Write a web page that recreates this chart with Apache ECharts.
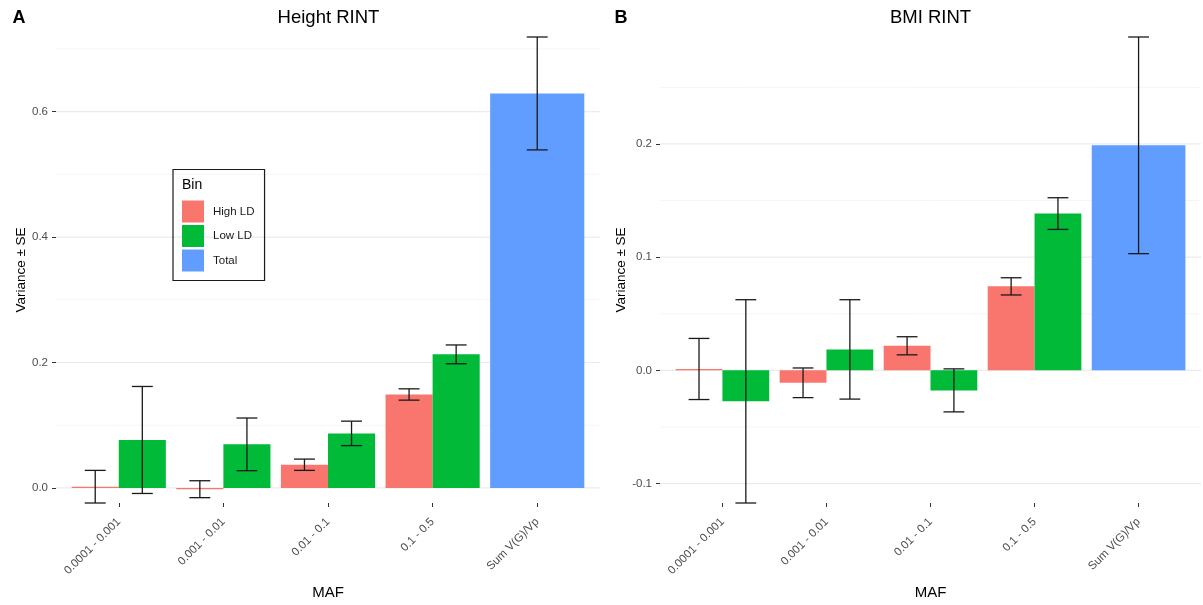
<!DOCTYPE html>
<html><head><meta charset="utf-8">
<script src="https://cdn.jsdelivr.net/npm/echarts@6/dist/echarts.min.js"></script>
<style>html,body{margin:0;padding:0;background:#fff}#c{width:1203px;height:605px}</style>
</head><body><div id="c"></div>
<script>
// ---------- data ----------
const categories = ['0.0001 - 0.001', '0.001 - 0.01', '0.01 - 0.1', '0.1 - 0.5', 'Sum V(G)/Vp'];

const heightHigh   = [0.002, -0.002, 0.037, 0.149, null];
const heightHighSE = [0.026, 0.0135, 0.009, 0.009, null];
const heightLow    = [0.0765, 0.0695, 0.087, 0.213, null];
const heightLowSE  = [0.0853, 0.042, 0.0195, 0.015, null];
const heightTotal   = [null, null, null, null, 0.629];
const heightTotalSE = [null, null, null, null, 0.090];

const bmiHigh   = [0.0012, -0.011, 0.0217, 0.0742, null];
const bmiHighSE = [0.027, 0.0131, 0.008, 0.0076, null];
const bmiLow    = [-0.0274, 0.0185, -0.0177, 0.1385, null];
const bmiLowSE  = [0.0898, 0.0439, 0.019, 0.014, null];
const bmiTotal   = [null, null, null, null, 0.1988];
const bmiTotalSE = [null, null, null, null, 0.0957];

const heightMajorTicks = [0, 0.2, 0.4, 0.6];
const heightMinorTicks = [0.1, 0.3, 0.5, 0.7];
const bmiMajorTicks = [-0.1, 0, 0.1, 0.2];
const bmiMinorTicks = [-0.05, 0.05, 0.15, 0.25];

const seriesNames = ['High LD', 'Low LD', 'Total'];
const catPositions = categories.map((c, i) => i + 1);

// ---------- styling ----------
const FONT = 'Liberation Sans, Arial, sans-serif';
const COLORS = {'High LD': '#F8766D', 'Low LD': '#00BA38', 'Total': '#619CFF'};
const DODGE = {'High LD': -0.225, 'Low LD': 0.225, 'Total': 0};
const WIDTH = {'High LD': 0.45, 'Low LD': 0.45, 'Total': 0.9};

function extent(pairs) {
  let lo = Infinity, hi = -Infinity;
  pairs.forEach(([v, s]) => v.forEach((x, i) => {
    if (x == null) return;
    lo = Math.min(lo, x - s[i]); hi = Math.max(hi, x + s[i]);
  }));
  return [lo, hi];
}

function barSeries(name, idx, vals) {
  const off = DODGE[name], w = WIDTH[name], color = COLORS[name];
  return {
    type: 'custom', name, xAxisIndex: idx, yAxisIndex: idx, z: 3, silent: true,
    itemStyle: {color},
    data: vals.map((v, i) => v == null ? null : [catPositions[i], v]).filter(Boolean),
    renderItem(params, api) {
      const x = api.value(0), y = api.value(1);
      const a = api.coord([x + off - w / 2, y]);
      const b = api.coord([x + off + w / 2, 0]);
      return {type: 'rect', shape: {x: a[0], y: Math.min(a[1], b[1]), width: b[0] - a[0],
        height: Math.max(Math.abs(b[1] - a[1]), 0.6)}, style: {fill: color}};
    }
  };
}

function errSeries(name, idx, vals, ses) {
  const off = DODGE[name];
  return {
    type: 'custom', name: name + ' SE ' + idx, xAxisIndex: idx, yAxisIndex: idx, z: 4, silent: true,
    data: vals.map((v, i) => v == null ? null : [catPositions[i], v, ses[i]]).filter(Boolean),
    renderItem(params, api) {
      const x = api.value(0) + off, v = api.value(1), s = api.value(2);
      const top = api.coord([x, v + s]), bot = api.coord([x, v - s]);
      const l = api.coord([x - 0.1, v])[0], r = api.coord([x + 0.1, v])[0];
      const st = {stroke: '#1a1a1a', lineWidth: 1.3};
      return {type: 'group', children: [
        {type: 'line', shape: {x1: top[0], y1: top[1], x2: bot[0], y2: bot[1]}, style: st},
        {type: 'line', shape: {x1: l, y1: top[1], x2: r, y2: top[1]}, style: st},
        {type: 'line', shape: {x1: l, y1: bot[1], x2: r, y2: bot[1]}, style: st}
      ]};
    }
  };
}

function gridSeries(idx, vals, color, width) {
  return {
    type: 'custom', name: 'grid' + idx + width, xAxisIndex: idx, yAxisIndex: idx, z: 1, silent: true,
    data: vals.map(v => [1, v]),
    renderItem(params, api) {
      const cs = params.coordSys;
      const y = api.coord([1, api.value(1)])[1];
      return {type: 'line', shape: {x1: cs.x, y1: y, x2: cs.x + cs.width, y2: y},
        style: {stroke: color, lineWidth: width}};
    }
  };
}

const hExt = extent([[heightHigh, heightHighSE], [heightLow, heightLowSE], [heightTotal, heightTotalSE]]);
const bExt = extent([[bmiHigh, bmiHighSE], [bmiLow, bmiLowSE], [bmiTotal, bmiTotalSE]]);

function xAxis(idx) {
  return {
    type: 'value', gridIndex: idx, min: 0.4, max: 5.6,
    axisLine: {show: false, onZero: false}, splitLine: {show: false},
    axisTick: {show: true, customValues: catPositions, length: 4, lineStyle: {color: '#333', width: 1}},
    axisLabel: {customValues: catPositions, rotate: 45, margin: 17, fontSize: 11.5, color: '#4D4D4D',
      fontFamily: FONT, formatter: v => categories[Math.round(v) - 1]},
    name: 'MAF', nameLocation: 'middle', nameGap: 82,
    nameTextStyle: {fontSize: 15, color: '#000', fontFamily: FONT}
  };
}
function yAxis(idx, ext, major, gap) {
  return {
    type: 'value', gridIndex: idx, min: ext[0], max: ext[1],
    axisLine: {show: false, onZero: false}, splitLine: {show: false},
    axisTick: {show: true, customValues: major, length: 4, lineStyle: {color: '#333', width: 1}},
    axisLabel: {customValues: major, margin: 8, fontSize: 11.5, color: '#4D4D4D', fontFamily: FONT,
      formatter: v => v.toFixed(1)},
    name: 'Variance \u00B1 SE', nameLocation: 'middle', nameGap: gap,
    nameTextStyle: {fontSize: 13.5, color: '#000', fontFamily: FONT}
  };
}

const option = {
  animation: false,
  backgroundColor: '#fff',
  textStyle: {fontFamily: FONT},
  grid: [
    {left: 56, right: 603, top: 37, bottom: 98},
    {left: 660, right: 2, top: 37, bottom: 98}
  ],
  xAxis: [xAxis(0), xAxis(1)],
  yAxis: [yAxis(0, hExt, heightMajorTicks, 28), yAxis(1, bExt, bmiMajorTicks, 32)],
  legend: {
    data: seriesNames, orient: 'vertical', left: 173, top: 169.5,
    padding: [31, 10, 9, 9], itemWidth: 22, itemHeight: 22, itemGap: 2.5, icon: 'rect',
    borderColor: '#1a1a1a', borderWidth: 1.2, selectedMode: false,
    textStyle: {fontSize: 11.5, color: '#1a1a1a', padding: [0, 0, 0, 4], fontFamily: FONT}
  },
  graphic: [
    {type: 'text', x: 19, y: 18, style: {text: 'A', font: 'bold 18px ' + FONT, fill: '#000', align: 'center', verticalAlign: 'middle'}},
    {type: 'text', x: 621, y: 18, style: {text: 'B', font: 'bold 18px ' + FONT, fill: '#000', align: 'center', verticalAlign: 'middle'}},
    {type: 'text', x: 328.5, y: 18, style: {text: 'Height RINT', font: '18.5px ' + FONT, fill: '#000', align: 'center', verticalAlign: 'middle'}},
    {type: 'text', x: 930.5, y: 18, style: {text: 'BMI RINT', font: '18.5px ' + FONT, fill: '#000', align: 'center', verticalAlign: 'middle'}},
    {type: 'text', x: 182, y: 185, z: 100, style: {text: 'Bin', font: '14px ' + FONT, fill: '#000', align: 'left', verticalAlign: 'middle'}}
  ],
  series: [
    gridSeries(0, heightMinorTicks, '#F2F2F2', 0.8),
    gridSeries(0, heightMajorTicks, '#EBEBEB', 1.2),
    gridSeries(1, bmiMinorTicks, '#F2F2F2', 0.8),
    gridSeries(1, bmiMajorTicks, '#EBEBEB', 1.2),
    barSeries('High LD', 0, heightHigh),
    barSeries('Low LD', 0, heightLow),
    barSeries('Total', 0, heightTotal),
    errSeries('High LD', 0, heightHigh, heightHighSE),
    errSeries('Low LD', 0, heightLow, heightLowSE),
    errSeries('Total', 0, heightTotal, heightTotalSE),
    barSeries('High LD', 1, bmiHigh),
    barSeries('Low LD', 1, bmiLow),
    barSeries('Total', 1, bmiTotal),
    errSeries('High LD', 1, bmiHigh, bmiHighSE),
    errSeries('Low LD', 1, bmiLow, bmiLowSE),
    errSeries('Total', 1, bmiTotal, bmiTotalSE)
  ]
};
const chart = echarts.init(document.getElementById('c'), null, {renderer: 'canvas'});
chart.setOption(option);
</script></body></html>
